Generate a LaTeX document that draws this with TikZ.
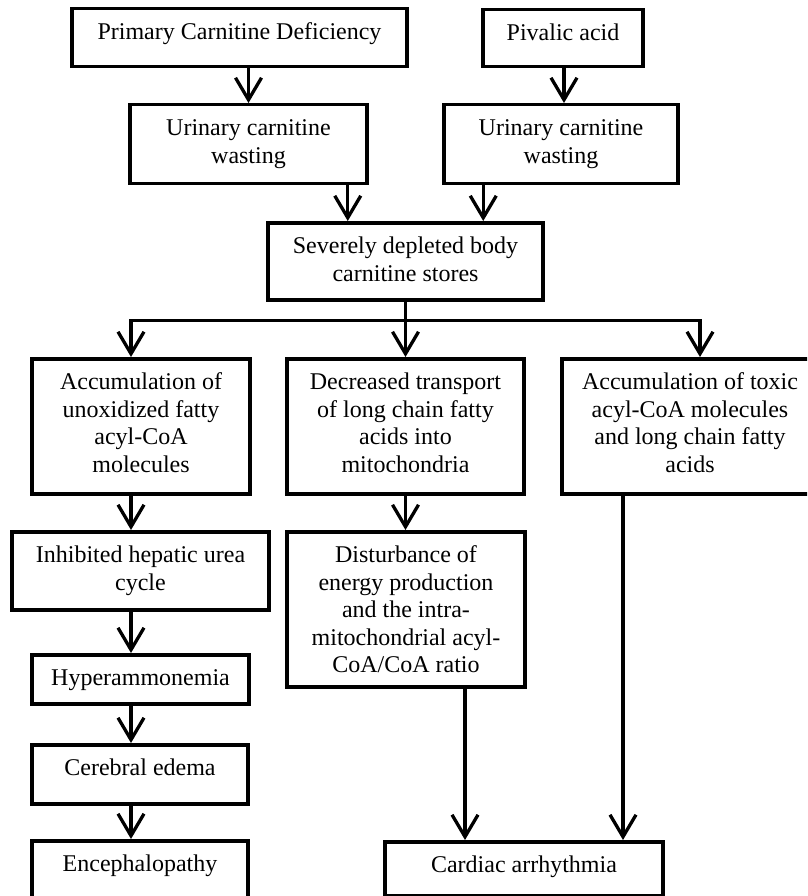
\documentclass[tikz,border=0pt]{standalone}
\usepackage{fontspec}
\setmainfont{Liberation Serif}
\usetikzlibrary{arrows.meta}
\newcommand\tl[1]{\begin{tabular}[t]{@{}c@{}}#1\end{tabular}}
\begin{document}
\begin{tikzpicture}[x=1pt,y=-1pt,
  box/.style={draw, line width=3.5pt, inner xsep=0pt, inner ysep=14pt,
    text height=17pt, anchor=north, font=\fontsize{24}{27.5}\selectfont},
  arr/.style={line width=3.3pt, -{Straight Barb[length=22pt,width=26pt]}},
  ln/.style={line width=3.3pt}
]
\clip (0,0) rectangle (807,896);
\fill[white] (0,0) rectangle (807,896);

\node[box, minimum width=335pt, text depth=13pt] (pcd) at (239.5,7) {\tl{Primary Carnitine Deficiency}};
\node[box, minimum width=160pt, text depth=12pt] (piv) at (563,8) {\tl{Pivalic acid}};
\node[box, minimum width=237pt, text depth=34pt] (uL) at (248.5,103) {\tl{Urinary carnitine\\wasting}};
\node[box, minimum width=234pt, text depth=34pt] (uR) at (561,103) {\tl{Urinary carnitine\\wasting}};
\node[box, minimum width=275pt, text depth=32pt] (sev) at (405.5,221) {\tl{Severely depleted body\\carnitine stores}};
\node[box, minimum width=218pt, text depth=90pt] (A) at (141,357) {\tl{Accumulation of\\unoxidized fatty\\acyl-CoA\\molecules}};
\node[box, minimum width=237pt, text depth=90pt] (B) at (405.5,357) {\tl{Decreased transport\\of long chain fatty\\acids into\\mitochondria}};
\node[box, minimum width=256pt, text depth=90pt] (C) at (690,357) {\tl{Accumulation of toxic\\acyl-CoA molecules\\and long chain fatty\\acids}};
\node[box, minimum width=257pt, text depth=33pt] (inh) at (140.5,530) {\tl{Inhibited hepatic urea\\cycle}};
\node[box, minimum width=238pt, text depth=110pt] (dis) at (406,530) {\tl{Disturbance of\\energy production\\and the intra-\\mitochondrial acyl-\\CoA/CoA ratio}};
\node[box, minimum width=217pt, text depth=4pt] (hyp) at (140.5,653) {\tl{Hyperammonemia}};
\node[box, minimum width=216pt, text depth=14pt] (cer) at (140,743) {\tl{Cerebral edema}};
\node[box, minimum width=216pt, text depth=14pt] (enc) at (140,839) {\tl{Encephalopathy}};
\node[box, minimum width=278pt, text depth=9pt] (car) at (524,840) {\tl{Cardiac arrhythmia}};

% top part
\draw[arr] (pcd.south -| uL.north) -- (uL.north);
\draw[arr] ([xshift=1pt]piv.south) -- ([xshift=1pt]piv.south |- uR.north);
\draw[arr] ([xshift=-21pt]uL.south east) -- ([xshift=-21pt]uL.south east |- sev.north);
\draw[arr] ([xshift=41pt]uR.south west) -- ([xshift=41pt]uR.south west |- sev.north);

% branch
\coordinate (j) at ([yshift=-19pt]sev.south);
\draw[arr] (sev.south) -- (B.north);
\draw[arr] (j) -| ([xshift=-10pt]A.north);
\draw[arr] (j) -| ([xshift=10pt]C.north);

% left column
\draw[arr] ([xshift=-10pt]A.south) -- ([xshift=-10pt]A.south |- inh.north);
\draw[arr] ([xshift=-9.5pt]inh.south) -- ([xshift=-9.5pt]inh.south |- hyp.north);
\draw[arr] ([xshift=-9.5pt]hyp.south) -- ([xshift=-9.5pt]hyp.south |- cer.north);
\draw[arr] ([xshift=-9pt]cer.south) -- ([xshift=-9pt]cer.south |- enc.north);

% middle and right
\draw[arr] (B.south) -- (B.south |- dis.north);
\draw[arr] ([xshift=59pt]dis.south) -- ([xshift=59pt]dis.south |- car.north);
\draw[arr] ([xshift=-67pt]C.south) -- ([xshift=-67pt]C.south |- car.north);
\end{tikzpicture}
\end{document}
